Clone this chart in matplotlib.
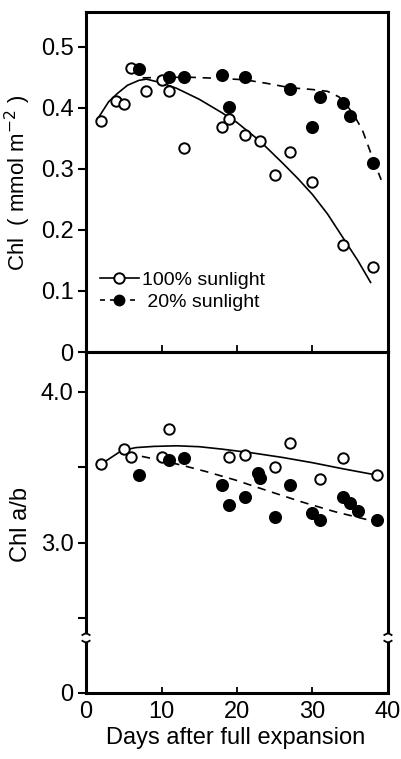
import matplotlib
matplotlib.use("Agg")
import matplotlib.pyplot as plt
from matplotlib.lines import Line2D

plt.rcParams['font.family'] = ['Liberation Sans', 'DejaVu Sans']

### data
# chlorophyll content (mmol m-2)
days_chl_100 = [2, 4, 5, 6, 8, 10, 11, 13, 18, 19, 21, 23, 25, 27, 30, 34, 38]
chl_100 = [0.378, 0.411, 0.407, 0.465, 0.427, 0.446, 0.427, 0.334, 0.368, 0.382,
           0.356, 0.345, 0.290, 0.327, 0.278, 0.175, 0.139]
days_chl_20 = [7, 11, 13, 18, 19, 21, 27, 30, 31, 34, 35, 38]
chl_20 = [0.464, 0.451, 0.451, 0.453, 0.401, 0.451, 0.431, 0.369, 0.417, 0.408, 0.386, 0.309]

# fitted curves (traced)
fit_chl_100_x = [1.7, 3, 4.2, 5.5, 7, 8, 10, 12, 15, 18, 20, 23, 26, 28, 30, 32, 34, 36, 37.7]
fit_chl_100_y = [0.385, 0.41, 0.424, 0.437, 0.445, 0.447, 0.441, 0.432, 0.414, 0.392, 0.376,
                 0.346, 0.31, 0.285, 0.258, 0.226, 0.188, 0.150, 0.114]
fit_chl_20_x = [7.5, 10, 14, 18, 21, 24, 27, 30, 32, 33.5, 34.5, 35.5, 36.6, 37.9, 39.1]
fit_chl_20_y = [0.449, 0.450, 0.450, 0.448, 0.446, 0.44, 0.433, 0.43, 0.427, 0.418, 0.405,
                0.388, 0.364, 0.32, 0.282]

# chl a/b ratio
days_ab_100 = [2, 5, 6, 10, 11, 19, 21, 25, 27, 31, 34, 38.5]
ab_100 = [3.52, 3.62, 3.57, 3.57, 3.75, 3.57, 3.58, 3.50, 3.66, 3.42, 3.56, 3.45]
days_ab_20 = [7, 11, 13, 18, 19, 21, 22.8, 23.1, 25, 27, 30, 31, 34, 35, 36, 38.5]
ab_20 = [3.45, 3.55, 3.56, 3.38, 3.25, 3.30, 3.46, 3.43, 3.17, 3.38, 3.20, 3.15,
         3.30, 3.26, 3.21, 3.15]

fit_ab_100_x = [2.3, 4.7, 6.6, 9, 12, 15, 18, 22, 26, 30, 34, 38.3]
fit_ab_100_y = [3.53, 3.61, 3.63, 3.638, 3.642, 3.636, 3.62, 3.595, 3.565, 3.53, 3.49, 3.45]
fit_ab_20_x = [5.5, 6.6, 10, 12.8, 16, 19.8, 24, 28.6, 33, 38.3]
fit_ab_20_y = [3.60, 3.58, 3.545, 3.512, 3.47, 3.415, 3.345, 3.27, 3.205, 3.14]

xticks = [0, 10, 20, 30, 40]

fig = plt.figure(figsize=(4.01, 7.59), dpi=100)
ax1 = fig.add_axes([0.2145, 0.5362, 0.753, 0.448])
ax2 = fig.add_axes([0.2145, 0.087, 0.753, 0.4492])

spine_w = 2.2
ms = 7.5
mew = 1.4
fs = 17

for ax in (ax1, ax2):
    for s in ax.spines.values():
        s.set_linewidth(spine_w)
    ax.set_xlim(0, 40)
    ax.set_xticks(xticks)
    ax.tick_params(axis='x', direction='in', length=4, width=1.3, top=False)
    ax.tick_params(axis='y', direction='out', length=6, width=1.5, labelsize=fs, pad=3)

### top panel
ax1.plot(fit_chl_100_x, fit_chl_100_y, 'k-', lw=1.2, zorder=2)
ax1.plot(fit_chl_20_x, fit_chl_20_y, 'k--', lw=1.2, dashes=(5, 4), zorder=2)
ax1.plot(days_chl_100, chl_100, 'o', ms=ms, mfc='white', mec='black', mew=mew, zorder=3)
ax1.plot(days_chl_20, chl_20, 'o', ms=ms + 0.5, mfc='black', mec='black', mew=mew, zorder=4)
ax1.set_ylim(0, 0.557)
ax1.set_yticks([0, 0.1, 0.2, 0.3, 0.4, 0.5])
ax1.set_yticklabels(['0', '0.1', '0.2', '0.3', '0.4', '0.5'])
ax1.set_xticklabels([])
ax1.tick_params(axis='x', length=5)
ax1.set_ylabel(r'Chl  ( mmol m$^{-2}$ )', fontsize=16)
ax1.yaxis.set_label_coords(-0.175, 0.497)

handles = [Line2D([], [], color='black', lw=1.2, marker='o', ms=ms, mfc='white', mec='black', mew=mew),
           Line2D([], [], color='black', lw=1.2, ls='--', dashes=(3, 3), marker='o', ms=ms,
                  mfc='black', mec='black')]
ax1.legend(handles, ['100% sunlight', ' 20% sunlight'], loc='lower left',
           bbox_to_anchor=(0.0, 0.08), frameon=False, fontsize=14,
           handlelength=2.0, handletextpad=0.2, labelspacing=0.25, borderaxespad=0.3)

### bottom panel
ax2.plot(fit_ab_100_x, fit_ab_100_y, 'k-', lw=1.2, zorder=2)
ax2.plot(fit_ab_20_x, fit_ab_20_y, 'k--', lw=1.2, dashes=(5, 4), zorder=2)
ax2.plot(days_ab_100, ab_100, 'o', ms=ms, mfc='white', mec='black', mew=mew, zorder=3)
ax2.plot(days_ab_20, ab_20, 'o', ms=ms + 0.5, mfc='black', mec='black', mew=mew, zorder=4)
ybot = 2.005
ax2.set_ylim(ybot, 4.263)
ax2.set_yticks([ybot, 2.5, 3.0, 3.5, 4.0])
ax2.set_yticklabels(['0', '', '3.0', '', '4.0'])
ax2.set_xticklabels([str(t) for t in xticks], fontsize=fs)
ax2.tick_params(axis='x', pad=6)
ax2.set_ylabel('Chl a/b', fontsize=fs)
ax2.yaxis.set_label_coords(-0.18, 0.493)
ax2.set_xlabel('Days after full expansion', fontsize=fs)
ax2.xaxis.set_label_coords(0.497, -0.10)

# axis break marks on both vertical spines
for xs in (0.0, 1.0):
    ax2.plot([xs, xs], [0.150, 0.172], color='white', lw=4, transform=ax2.transAxes,
             clip_on=False, zorder=5, solid_capstyle='butt')
    for yb, sgn in ((0.174, 1), (0.149, -1)):
        ax2.plot([xs - 0.012, xs - 0.004, xs + 0.004, xs + 0.012],
                 [yb - 0.004 * sgn, yb, yb, yb - 0.004 * sgn],
                 color='black', lw=1.3, transform=ax2.transAxes, clip_on=False, zorder=6)

fig.savefig('out.png', dpi=100)
